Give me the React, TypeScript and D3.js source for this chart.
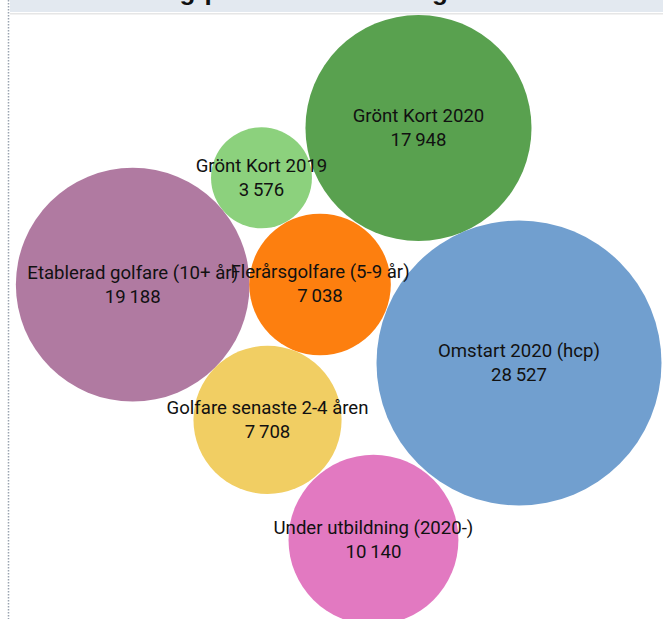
import React from "react";
import * as d3 from "d3";

// Data
const categories = [
  "Grönt Kort 2020",
  "Omstart 2020 (hcp)",
  "Etablerad golfare (10+ år)",
  "Grönt Kort 2019",
  "Flerårsgolfare (5-9 år)",
  "Golfare senaste 2-4 åren",
  "Under utbildning (2020-)",
];
const values = [17948, 28527, 19188, 3576, 7038, 7708, 10140];
// Bubble layout positions (relative units 0-100 of the chart area)
const layoutX = [63.12, 78.28, 20.02, 39.44, 48.27, 40.35, 56.33];
const layoutY = [20.68, 58.64, 45.99, 28.72, 45.96, 67.82, 87.21];
const colors = ["#59a14f", "#719fcf", "#b07aa1", "#8cd17d", "#fd7f0f", "#f1ce63", "#e279c1"];
const title = "Fördelning per medlemskategori";

const W = 663;
const H = 619;

const locale = d3.formatLocale({
  decimal: ",",
  thousands: "\u2009",
  grouping: [3],
  currency: ["", " kr"],
});
const fmt = locale.format(",d");

export default function App() {
  const x = d3.scaleLinear().domain([0, 100]).range([0, W]);
  const y = d3.scaleLinear().domain([0, 100]).range([0, H]);
  const r = d3.scaleSqrt().domain([0, d3.max(values) as number]).range([0, 142.5]);

  const nodes = categories.map((c, i) => ({
    name: c,
    value: values[i],
    cx: x(layoutX[i]),
    cy: y(layoutY[i]),
    r: r(values[i]),
    color: colors[i],
  }));

  return (
    <svg
      width={W}
      height={H}
      style={{ position: "absolute", left: 0, top: 0, background: "#fff" }}
      fontFamily="Roboto, 'Noto Sans', sans-serif"
    >
      <rect x={0} y={0} width={W} height={H} fill="#fff" />
      {/* header band */}
      <rect x={10} y={0} width={W - 10} height={12} fill="#e3e9f0" />
      <rect x={10} y={13} width={W - 10} height={1.5} fill="#e6e6e6" />
      <text
        x={52}
        y={0}
        fontSize={26}
        fontWeight="bold"
        fill="#111"
        letterSpacing={1}
        fontFamily="'Liberation Sans', Arial, sans-serif"
      >
        {title}
      </text>
      {/* left dotted border */}
      <line x1={8.5} y1={0} x2={8.5} y2={H} stroke="#9aa3b0" strokeWidth={1.5} strokeDasharray="1.5,1.5" />
      <g>
        {nodes.map((n) => (
          <circle key={n.name} cx={n.cx} cy={n.cy} r={n.r} fill={n.color} />
        ))}
      </g>
      <g fill="#111" fontSize={18.6} textAnchor="middle">
        {nodes.map((n) => (
          <text key={n.name} x={n.cx} y={n.cy - 6}>
            <tspan x={n.cx}>{n.name}</tspan>
            <tspan x={n.cx} dy={24}>
              {fmt(n.value)}
            </tspan>
          </text>
        ))}
      </g>
    </svg>
  );
}
